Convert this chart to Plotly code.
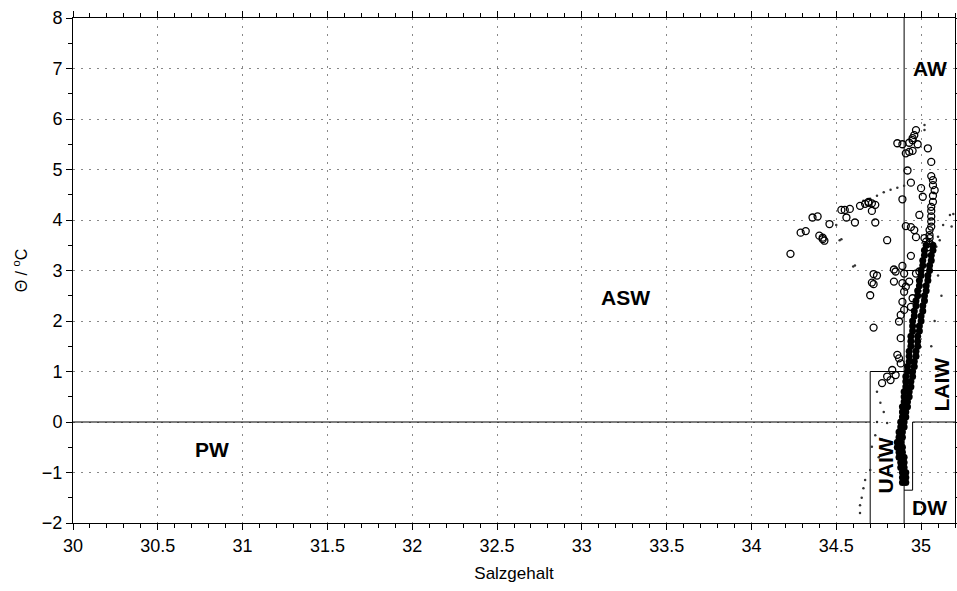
import plotly.graph_objects as go

# ---- data ----
circ_S = [34.23, 34.29, 34.32, 34.36, 34.39, 34.40, 34.42, 34.43, 34.42, 34.46,
          34.53, 34.55, 34.58, 34.56, 34.61, 34.64, 34.67, 34.69, 34.71, 34.73,
          34.69, 34.71, 34.73, 34.74, 34.72,
          34.97, 34.96, 34.95, 34.86, 34.89, 34.93, 34.95, 34.98, 34.91, 34.93,
          34.95, 35.04, 35.06, 34.92,
          35.06, 35.07, 35.07, 35.08, 35.07, 35.07, 35.06, 35.06, 35.06, 35.06,
          35.06, 35.05, 35.05, 35.05, 35.05, 35.04,
          34.94, 35.00, 35.01, 34.89, 34.99, 34.91, 34.94, 34.96, 34.80, 34.97,
          35.02, 35.03, 34.94,
          34.72, 34.71, 34.70, 34.72, 34.84, 34.85, 34.89, 34.90, 34.84, 34.89,
          34.91, 34.93, 34.97, 34.99, 34.90, 34.89, 34.90, 34.88, 34.87, 34.95,
          34.94, 34.88, 34.86, 34.87, 34.88,
          34.77, 34.80, 34.83, 34.85, 34.82]
circ_T = [3.33, 3.75, 3.78, 4.05, 4.07, 3.69, 3.65, 3.59, 3.62, 3.92,
          4.20, 4.20, 4.22, 4.05, 3.95, 4.28, 4.32, 4.34, 4.33, 4.30,
          4.36, 4.18, 3.95, 2.90, 2.73,
          5.78, 5.68, 5.62, 5.52, 5.50, 5.53, 5.58, 5.50, 5.32, 5.35,
          5.37, 5.42, 5.15, 4.98,
          4.87, 4.79, 4.69, 4.59, 4.48, 4.36, 4.26, 4.18, 4.07, 3.97,
          3.87, 3.80, 3.70, 3.64, 3.54, 3.46,
          4.74, 4.63, 4.46, 4.41, 4.10, 3.88, 3.86, 3.80, 3.60, 3.66,
          3.64, 3.57, 3.29,
          2.93, 2.76, 2.51, 1.87, 3.02, 2.98, 3.09, 2.94, 2.78, 2.75,
          2.68, 2.78, 2.94, 2.98, 2.58, 2.38, 2.22, 2.12, 1.99, 2.45,
          2.28, 1.66, 1.33, 1.26, 1.16,
          0.77, 0.90, 1.03, 0.93, 0.83]

band_T = [3.58, 3.50, 3.44, 3.36, 3.30, 3.24, 3.18, 3.10, 3.04, 2.98,
          2.92, 2.85, 2.80, 2.74, 2.68, 2.62, 2.56, 2.50, 2.44, 2.38,
          2.32, 2.26, 2.20, 2.14, 2.08, 2.02, 1.96, 1.90, 1.84, 1.78,
          1.72, 1.66, 1.60, 1.54, 1.48, 1.42, 1.36, 1.30, 1.24, 1.18,
          1.12, 1.06, 1.00, 0.94, 0.88, 0.82, 0.76, 0.70, 0.64, 0.58,
          0.52, 0.46, 0.40, 0.34, 0.28, 0.22, 0.16, 0.10, 0.04, -0.02,
          -0.08, -0.14, -0.20, -0.26, -0.32, -0.38, -0.44, -0.50, -0.56, -0.62,
          -0.68, -0.74, -0.80, -0.86, -0.92, -0.98, -1.04, -1.10, -1.16, -1.22]
band_S = [35.05, 35.06, 35.04, 35.05, 35.03, 35.05, 35.03, 35.04, 35.02, 35.04,
          35.02, 35.03, 35.01, 35.03, 35.01, 35.02, 35.00, 35.02, 35.00, 35.01,
          34.99, 35.01, 34.99, 35.00, 34.98, 35.00, 34.98, 34.99, 34.97, 34.99,
          34.97, 34.98, 34.96, 34.98, 34.96, 34.97, 34.95, 34.97, 34.95, 34.96,
          34.94, 34.96, 34.94, 34.95, 34.93, 34.94, 34.93, 34.94, 34.92, 34.93,
          34.91, 34.93, 34.91, 34.92, 34.90, 34.91, 34.90, 34.91, 34.89, 34.90,
          34.89, 34.90, 34.88, 34.89, 34.88, 34.89, 34.87, 34.89, 34.88, 34.89,
          34.88, 34.90, 34.88, 34.90, 34.89, 34.90, 34.89, 34.91, 34.90, 34.90]

dense_T = [3.5, 3.4, 3.3, 3.2, 3.1, 3.0, 2.9, 2.8, 2.7, 2.6,
           2.5, 2.4, 2.3, 2.2, 2.1, 2.0, 1.9, 1.8, 1.7, 1.6,
           1.5, 1.4, 1.3, 1.2, 1.1, 1.0, 0.9, 0.8, 0.7, 0.6,
           0.5, 0.4, 0.3, 0.2, 0.1, 0.0, -0.1, -0.2, -0.3, -0.4,
           -0.5, -0.6, -0.7, -0.8, -0.9, -1.0, -1.1, -1.2]
dense_S_left = [35.03, 35.02, 35.02, 35.01, 35.01, 35.00, 35.00, 34.99, 34.99, 34.98,
                34.98, 34.97, 34.97, 34.96, 34.96, 34.95, 34.95, 34.95, 34.94, 34.94,
                34.94, 34.93, 34.93, 34.93, 34.92, 34.92, 34.91, 34.91, 34.91, 34.90,
                34.90, 34.90, 34.89, 34.89, 34.89, 34.88, 34.88, 34.87, 34.87, 34.86,
                34.86, 34.87, 34.87, 34.88, 34.88, 34.89, 34.89, 34.89]
dense_S_right = [35.07, 35.07, 35.06, 35.06, 35.05, 35.05, 35.04, 35.04, 35.03, 35.03,
                 35.02, 35.02, 35.01, 35.01, 35.00, 35.00, 34.99, 34.99, 34.98, 34.98,
                 34.98, 34.97, 34.97, 34.96, 34.96, 34.95, 34.95, 34.94, 34.94, 34.93,
                 34.93, 34.92, 34.92, 34.91, 34.91, 34.90, 34.90, 34.89, 34.89, 34.88,
                 34.89, 34.89, 34.90, 34.90, 34.90, 34.91, 34.91, 34.91]

dot_S = [35.02, 35.02, 35.17, 35.13, 35.11, 35.18, 35.10, 35.09, 35.19,
         34.66, 34.70, 34.74, 34.78, 34.82, 34.86, 34.90, 34.50, 34.52, 34.53, 34.60, 34.61,
         34.74, 34.76, 34.78, 34.74, 34.80, 34.73, 34.77, 34.71, 34.75, 34.70, 34.67,
         34.66, 34.65, 34.64, 34.64,
         35.10, 35.12, 35.08, 35.06]
dot_T = [5.88, 5.78, 4.10, 3.90, 3.60, 3.87, 3.67, 3.47, 4.12,
         4.38, 4.42, 4.48, 4.55, 4.60, 4.64, 4.68, 3.90, 3.60, 3.62, 3.08, 3.10,
         0.60, 0.38, 0.20, 0.00, -0.02, -0.26, -0.35, -0.49, -0.70, -0.95, -1.15,
         -1.31, -1.50, -1.65, -1.80,
         2.90, 2.50, 2.00, 1.50]

# water-mass boundaries (S, theta)
bound_x = [[30.0, 34.7], [34.7, 34.7, 34.9], [34.9, 34.9], [34.9, 35.2],
           [34.9, 34.95, 34.95, 35.2]]
bound_y = [[0.0, 0.0], [-2.0, 1.0, 1.0], [-2.0, 8.0], [3.0, 3.0],
           [-1.35, -1.35, 0.0, 0.0]]

label_text = ["AW", "ASW", "PW", "LAIW", "UAIW", "DW"]
label_S = [35.05, 33.26, 30.82, 35.12, 34.79, 35.05]
label_T = [7.01, 2.46, -0.55, 0.75, -0.85, -1.70]
label_rot = [0, 0, 0, -90, -90, 0]

x_ticks = [30, 30.5, 31, 31.5, 32, 32.5, 33, 33.5, 34, 34.5, 35]
y_ticks = [-2, -1, 0, 1, 2, 3, 4, 5, 6, 7, 8]

FONT = "Liberation Sans, Arial, Helvetica, sans-serif"

fig = go.Figure()

for bx, by in zip(bound_x, bound_y):
    fig.add_trace(go.Scatter(x=bx, y=by, mode="lines",
                             line=dict(color="black", width=1),
                             hoverinfo="skip", showlegend=False))

fig.add_trace(go.Scatter(x=dot_S, y=dot_T, mode="markers",
                         marker=dict(size=2.5, color="#333"), showlegend=False))
fig.add_trace(go.Scatter(x=dense_S_left + dense_S_right, y=dense_T + dense_T,
                         mode="markers",
                         marker=dict(size=7, color="black"), showlegend=False))
fig.add_trace(go.Scatter(x=band_S, y=band_T, mode="markers",
                         marker=dict(size=9, color="rgba(0,0,0,0)", symbol="circle-open",
                                     line=dict(color="black", width=1.4)),
                         showlegend=False))
fig.add_trace(go.Scatter(x=circ_S, y=circ_T, mode="markers",
                         marker=dict(size=7, symbol="circle-open", color="black",
                                     line=dict(color="black", width=1.3)),
                         showlegend=False))
# invisible trace to anchor the mirrored top/right axes
fig.add_trace(go.Scatter(x=[30], y=[8], xaxis="x2", yaxis="y2", mode="markers",
                         marker=dict(size=1, color="rgba(0,0,0,0)"),
                         hoverinfo="skip", showlegend=False))

for t, s, th, r in zip(label_text, label_S, label_T, label_rot):
    fig.add_annotation(x=s, y=th, text="<b>%s</b>" % t, showarrow=False,
                       textangle=r, font=dict(family=FONT, size=21, color="black"),
                       xanchor="center", yanchor="middle")

grid = dict(showgrid=True, gridcolor="#888", griddash="2px,6px", gridwidth=1)
line = dict(showline=True, linecolor="black", linewidth=1, zeroline=False,
            ticks="outside", ticklen=6, tickwidth=1, tickcolor="black", automargin=False)

fig.update_layout(
    width=957, height=591,
    margin=dict(l=73, r=2, t=18, b=68),
    paper_bgcolor="white", plot_bgcolor="white",
    showlegend=False,
    xaxis=dict(range=[30, 35.2], tickvals=x_ticks, ticktext=[("%g" % v) for v in x_ticks],
               minor=dict(dtick=0.1, tick0=30, ticklen=4, ticks="outside", tickcolor="black",
                          showgrid=False),
               tickfont=dict(family=FONT, size=18, color="black"),
               title=dict(text="Salzgehalt", font=dict(family=FONT, size=17, color="black"),
                          standoff=12),
               **grid, **line),
    yaxis=dict(range=[-2, 8], tickvals=y_ticks,
               ticktext=[("%g" % v).replace("-", "\u2212") for v in y_ticks],
               minor=dict(dtick=0.5, tick0=0, ticklen=4, ticks="outside", tickcolor="black",
                          showgrid=False),
               tickfont=dict(family=FONT, size=18, color="black"),
               title=dict(text="\u0398 / <sup>o</sup>C", font=dict(family=FONT, size=16, color="black"),
                          standoff=10),
               **grid, **line),
    xaxis2=dict(range=[30, 35.2], overlaying="x", side="top", anchor="y",
                tickvals=x_ticks, showticklabels=False, showgrid=False,
                minor=dict(dtick=0.1, tick0=30, ticklen=4, ticks="outside", tickcolor="black"),
                **line),
    yaxis2=dict(range=[-2, 8], overlaying="y", side="right", anchor="x",
                tickvals=y_ticks, showticklabels=False, showgrid=False,
                minor=dict(dtick=0.5, tick0=0, ticklen=4, ticks="outside", tickcolor="black"),
                **line),
)

fig.write_html("out.html", config={"displayModeBar": False},
               post_script="document.body.style.margin='0';document.body.style.overflow='hidden';")
